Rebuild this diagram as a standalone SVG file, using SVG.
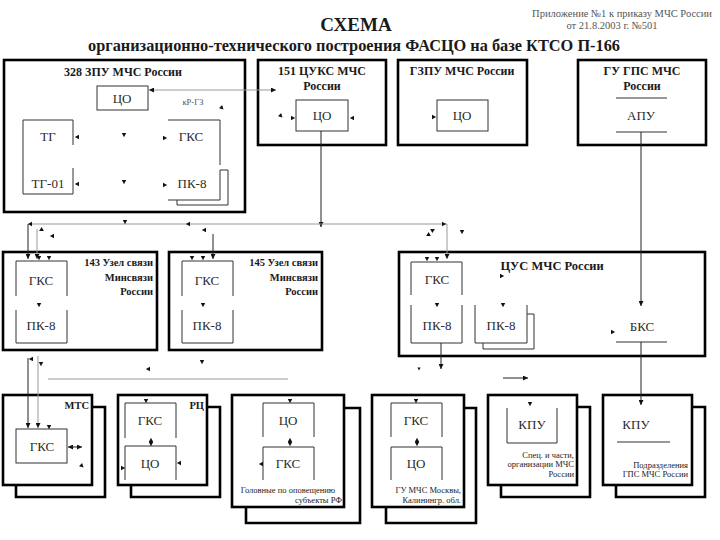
<svg xmlns="http://www.w3.org/2000/svg" xmlns:xlink="http://www.w3.org/1999/xlink" width="720" height="540" viewBox="0 0 720 540">
<style>
text{font-family:"Liberation Serif","Times New Roman",serif;fill:#1a1a1a}
.sm{font-size:10.5px;fill:#555}
.h1{font-size:19px;font-weight:bold}
.h2{font-size:16px;font-weight:bold}
.bt{font-size:12px;font-weight:bold}
.mt{font-size:10.5px;font-weight:bold}
.lb{font-size:13px;fill:#2a2a2a}
.tx{font-size:8.5px;fill:#222}
.c{text-anchor:middle}
.e{text-anchor:end}
.box{fill:#fff;stroke:#000;stroke-width:2.6}
.shd{fill:none;stroke:#000;stroke-width:2.6}
.in{fill:none;stroke:#333;stroke-width:1}
.ln{fill:none;stroke:#222;stroke-width:1}
.gl{fill:none;stroke:#999;stroke-width:1}
.ah{fill:#111}
</style>
<defs>
<path id="tD" d="M-2.2,-2 L2.2,-2 L0,2.2 Z"/>
<marker id="m" viewBox="0 0 6 6" refX="6" refY="3" markerWidth="5" markerHeight="5" orient="auto" markerUnits="userSpaceOnUse"><path d="M0,0 L6,3 L0,6 Z" fill="#111"/></marker>
<marker id="ms" viewBox="0 0 6 6" refX="0" refY="3" markerWidth="5" markerHeight="5" orient="auto" markerUnits="userSpaceOnUse"><path d="M6,0 L0,3 L6,6 Z" fill="#111"/></marker>
</defs>

<g id="header">
<text x="712" y="17" class="sm e">Приложение №1 к приказу МЧС России</text>
<text x="612" y="29" class="sm c">от 21.8.2003 г. №501</text>
<text x="356" y="31" class="h1 c">СХЕМА</text>
<text x="354" y="51" class="h2 c" textLength="532" lengthAdjust="spacingAndGlyphs">организационно-технического построения ФАСЦО на базе КТСО П-166</text>
</g>

<g id="n328">
<rect class="box" x="4" y="60" width="241" height="152"/>
<text x="123" y="76" class="bt c">328 ЗПУ МЧС России</text>
<rect class="in" x="97" y="86" width="51" height="24"/>
<text x="122" y="103" class="lb c">ЦО</text>
<text x="193" y="105" class="tx c" style="fill:#555">кР-ГЗ</text>
<path class="in" d="M73,145 V120 H23 V194 H73 V168"/>
<text x="48" y="141" class="lb c">ТГ</text>
<text x="48" y="188" class="lb c">ТГ-01</text>
<path class="in" d="M168,120 H220 V165"/>
<text x="191" y="141" class="lb c">ГКС</text>
<path class="in" d="M220,170 V200 H168"/>
<path class="in" d="M220,170 H228 V205 H177 V200"/>
<text x="192" y="188" class="lb c">ПК-8</text>
</g>

<g id="n151">
<rect class="box" x="258" y="60" width="128" height="85"/>
<text x="322" y="75" class="bt c">151 ЦУКС МЧС</text>
<text x="322" y="90" class="bt c">России</text>
<rect class="in" x="296" y="100" width="52" height="31"/>
<text x="322" y="120" class="lb c">ЦО</text>
</g>

<g id="ngzpu">
<rect class="box" x="398" y="60" width="129" height="85"/>
<text x="462" y="75" class="bt c">ГЗПУ МЧС России</text>
<rect class="in" x="437" y="100" width="51" height="31"/>
<text x="462" y="120" class="lb c">ЦО</text>
</g>

<g id="nguGPS">
<rect class="box" x="578" y="60" width="128" height="85"/>
<text x="642" y="75" class="bt c">ГУ ГПС МЧС</text>
<text x="642" y="90" class="bt c">России</text>
<path class="in" d="M616,98 H667 M616,132 H667"/>
<text x="641" y="120" class="lb c">АПУ</text>
</g>

<g id="n143">
<rect class="box" x="3" y="252" width="154" height="98"/>
<text x="153" y="266" class="mt e">143 Узел связи</text>
<text x="153" y="281" class="mt e">Минсвязи</text>
<text x="153" y="295" class="mt e">России</text>
<path class="in" d="M16,296 V261 H67 V296 M16,310 V343 H67 V310"/>
<text x="41" y="285" class="lb c">ГКС</text>
<text x="41" y="330" class="lb c">ПК-8</text>
</g>

<g id="n145">
<rect class="box" x="169" y="252" width="153" height="98"/>
<text x="318" y="266" class="mt e">145 Узел связи</text>
<text x="318" y="281" class="mt e">Минсвязи</text>
<text x="318" y="295" class="mt e">России</text>
<path class="in" d="M182,296 V261 H233 V296 M182,310 V343 H233 V310"/>
<text x="207" y="285" class="lb c">ГКС</text>
<text x="207" y="330" class="lb c">ПК-8</text>
</g>

<g id="nCUS">
<rect class="box" x="399" y="252" width="306" height="104"/>
<text x="552" y="270" class="bt c" style="font-size:12.5px">ЦУС МЧС России</text>
<path class="in" d="M411,295 V262 H462 V295 M411,305 V343 H462 V305"/>
<text x="437" y="284" class="lb c">ГКС</text>
<text x="437" y="330" class="lb c">ПК-8</text>
<path class="in" d="M475,305 V343 H527 V305 M527,314 H534 V349 H483 V343"/>
<text x="501" y="330" class="lb c">ПК-8</text>
<text x="642" y="331" class="lb c">БКС</text>
<path class="in" d="M616,342 H667"/>
</g>

<g id="nMTS">
<path class="shd" d="M92,407 H105 V497 H16 V485"/>
<rect class="box" x="3" y="395" width="89" height="90"/>
<text x="89" y="409" class="mt e">МТС</text>
<rect class="in" x="16" y="429" width="51" height="34"/>
<text x="42" y="451" class="lb c">ГКС</text>
</g>

<g id="nRC">
<path class="shd" d="M207,407 H220 V497 H131 V485"/>
<rect class="box" x="118" y="395" width="89" height="90"/>
<text x="204" y="409" class="mt e">РЦ</text>
<path class="in" d="M125,438 V403 H176 V438 M125,480 V446 H176 V480"/>
<text x="150" y="425" class="lb c">ГКС</text>
<text x="150" y="468" class="lb c">ЦО</text>
</g>

<g id="nGol">
<path class="shd" d="M344,408 H360 V523 H246 V507"/>
<rect class="box" x="232" y="395" width="112" height="112"/>
<path class="in" d="M263,437 V403 H314 V437 M263,480 V447 H314 V480"/>
<text x="288" y="425" class="lb c">ЦО</text>
<text x="288" y="468" class="lb c">ГКС</text>
<text x="288" y="493" class="tx c">Головные по оповещению</text>
<text x="342" y="503" class="tx e">субъекты РФ</text>
</g>

<g id="nGUM">
<path class="shd" d="M464,408 H476 V523 H386 V507"/>
<rect class="box" x="372" y="395" width="92" height="112"/>
<path class="in" d="M391,437 V403 H442 V437 M391,480 V447 H442 V480"/>
<text x="416" y="425" class="lb c">ГКС</text>
<text x="416" y="468" class="lb c">ЦО</text>
<text x="461" y="493" class="tx e">ГУ МЧС Москвы,</text>
<text x="461" y="503" class="tx e">Калинингр. обл.</text>
</g>

<g id="nSpec">
<path class="shd" d="M577,407 H590 V497 H501 V485"/>
<rect class="box" x="488" y="395" width="89" height="90"/>
<path class="in" d="M507,408 V443 H557 V408"/>
<text x="532" y="429" class="lb c">КПУ</text>
<text x="574" y="458" class="tx e">Спец. и части,</text>
<text x="574" y="467" class="tx e">организации МЧС</text>
<text x="574" y="477" class="tx e">России</text>
</g>

<g id="nPodr">
<path class="shd" d="M692,407 H705 V497 H616 V485"/>
<rect class="box" x="603" y="395" width="89" height="90"/>
<text x="636" y="429" class="lb c">КПУ</text>
<path class="in" d="M617,442 H670"/>
<text x="688" y="468" class="tx e">Подразделения</text>
<text x="688" y="477" class="tx e">ГПС МЧС России</text>
</g>

<g id="connectors">
<path class="gl" d="M149,90 H276" marker-start="url(#ms)" marker-end="url(#m)"/>
<path class="ln" d="M321,131 V227" marker-end="url(#m)"/>
<path class="ln" d="M641,132 V306" marker-end="url(#m)"/>
<path class="ln" d="M641,342 V405" marker-end="url(#m)"/>
<path class="gl" d="M30,224 H447"/>
<path class="ln" d="M28,224 V259" marker-end="url(#m)"/>
<path class="gl" d="M37,229 V259" marker-end="url(#m)"/>
<path class="gl" d="M447,224 V259" marker-end="url(#m)"/>
<path class="ln" d="M213,234 V259" marker-end="url(#m)"/>
<path class="ln" d="M441,343 V369" marker-end="url(#m)"/>
<path class="ln" d="M503,378 H528" marker-end="url(#m)"/>
<path class="ln" d="M28,358 V428" marker-end="url(#m)"/>
<path class="gl" d="M38,356 V428" marker-end="url(#m)"/>
<path class="gl" d="M48,379 H288"/>
<path class="ln" d="M68,447 H82" marker-start="url(#ms)" marker-end="url(#m)"/>
<g class="ah">
<use xlink:href="#tD" transform="translate(77,137) rotate(90)"/>
<use xlink:href="#tD" transform="translate(124,135)"/>
<use xlink:href="#tD" transform="translate(165,138) rotate(-90)"/>
<use xlink:href="#tD" transform="translate(77,184) rotate(90)"/>
<use xlink:href="#tD" transform="translate(124,182)"/>
<use xlink:href="#tD" transform="translate(165,185) rotate(-90)"/>
<use xlink:href="#tD" transform="translate(222,108) rotate(-45)"/>
<use xlink:href="#tD" transform="translate(281,116) rotate(-45)"/>
<use xlink:href="#tD" transform="translate(293,118) rotate(-90)"/>
<use xlink:href="#tD" transform="translate(352,118) rotate(90)"/>
<use xlink:href="#tD" transform="translate(434,117) rotate(-90)"/>
<use xlink:href="#tD" transform="translate(30,224) rotate(90)"/>
<use xlink:href="#tD" transform="translate(125,222)"/>
<use xlink:href="#tD" transform="translate(188,224) rotate(90)"/>
<use xlink:href="#tD" transform="translate(444,224) rotate(-90)"/>
<use xlink:href="#tD" transform="translate(41,230) rotate(60)"/>
<use xlink:href="#tD" transform="translate(52,236) rotate(90)"/>
<use xlink:href="#tD" transform="translate(204,230) rotate(90)"/>
<use xlink:href="#tD" transform="translate(433,230) rotate(-120)"/>
<use xlink:href="#tD" transform="translate(428,235) rotate(60)"/>
<use xlink:href="#tD" transform="translate(462,232)"/>
<use xlink:href="#tD" transform="translate(39,258)"/>
<use xlink:href="#tD" transform="translate(49,258)"/>
<use xlink:href="#tD" transform="translate(39,305)"/>
<use xlink:href="#tD" transform="translate(192,258)"/>
<use xlink:href="#tD" transform="translate(203,258)"/>
<use xlink:href="#tD" transform="translate(203,305)"/>
<use xlink:href="#tD" transform="translate(427,259)"/>
<use xlink:href="#tD" transform="translate(437,259)"/>
<use xlink:href="#tD" transform="translate(437,305)"/>
<use xlink:href="#tD" transform="translate(503,305)"/>
<use xlink:href="#tD" transform="translate(502,276) rotate(-90)"/>
<use xlink:href="#tD" transform="translate(613,332) rotate(-90)"/>
<use xlink:href="#tD" transform="translate(419,369) scale(0.7)"/>
<use xlink:href="#tD" transform="translate(31,359) rotate(90)"/>
<use xlink:href="#tD" transform="translate(41,364)"/>
<use xlink:href="#tD" transform="translate(202,362)"/>
<use xlink:href="#tD" transform="translate(148,369) rotate(90)"/>
<use xlink:href="#tD" transform="translate(49,427)"/>
<use xlink:href="#tD" transform="translate(82,466) rotate(-45)"/>
<use xlink:href="#tD" transform="translate(146,401)"/>
<use xlink:href="#tD" transform="translate(151,440) rotate(180)"/>
<use xlink:href="#tD" transform="translate(151,444)"/>
<use xlink:href="#tD" transform="translate(123,468) rotate(-90)"/>
<use xlink:href="#tD" transform="translate(179,463) rotate(90)"/>
<use xlink:href="#tD" transform="translate(290,401)"/>
<use xlink:href="#tD" transform="translate(290,440) rotate(180)"/>
<use xlink:href="#tD" transform="translate(290,444)"/>
<use xlink:href="#tD" transform="translate(261,464) rotate(90)"/>
<use xlink:href="#tD" transform="translate(416,401)"/>
<use xlink:href="#tD" transform="translate(417,440) rotate(180)"/>
<use xlink:href="#tD" transform="translate(417,444)"/>
<use xlink:href="#tD" transform="translate(530,404)"/>
</g>
</g>
</svg>
